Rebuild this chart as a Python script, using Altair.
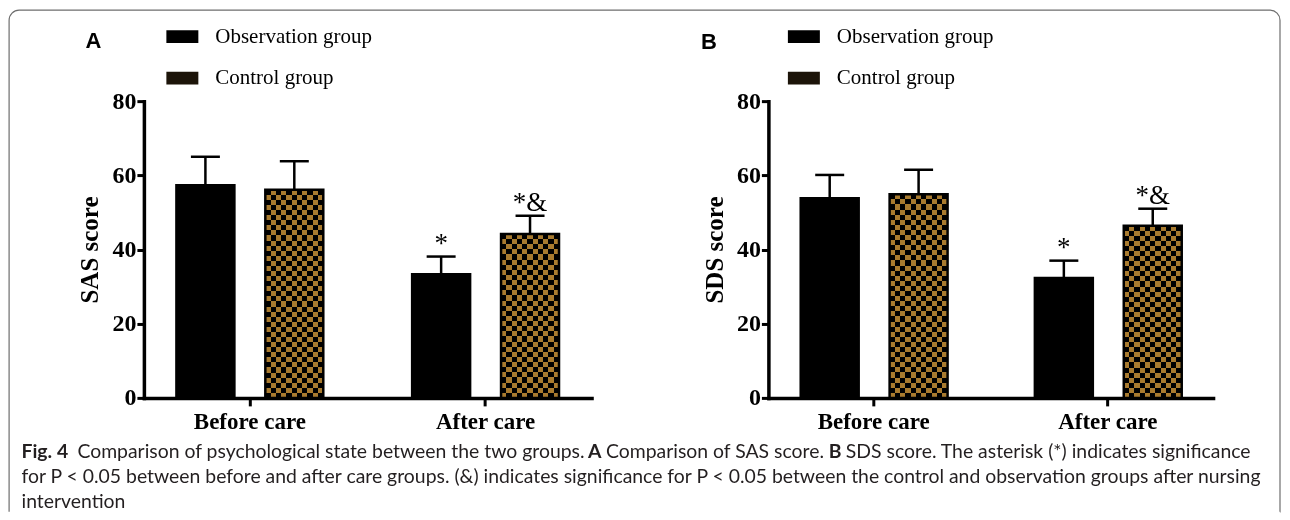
import math
import altair as alt
import pandas as pd

# ---------------- data ----------------
times = ["Before care", "After care"]
groups = ["Observation group", "Control group"]

sas_mean = [57.3, 56.1, 33.3, 44.2]   # obs-before, ctrl-before, obs-after, ctrl-after
sas_sd = [7.7, 7.7, 4.8, 4.9]
sds_mean = [53.8, 54.9, 32.3, 46.4]
sds_sd = [6.3, 6.6, 4.7, 4.6]
sig_marks = ["", "", "*", "*&"]

caption_line1 = ["Fig. 4", "Comparison of psychological state between the two groups.",
                 "A", "Comparison of SAS score.", "B",
                 "SDS score. The asterisk (*) indicates significance"]
caption_bold1 = [True, False, True, False, True, False]
caption_line2 = ("for P < 0.05 between before and after care groups. (&) indicates significance "
                 "for P < 0.05 between the control and observation groups after nursing")
caption_line3 = "intervention"

# ---------------- style / layout ----------------
BROWN = "#a97b2f"
W, H = 448, 297
SERIF = "Liberation Serif"
CAP_FONT = "Lato"
CAP_SIZE = 19.4
cap_x1 = [21, 77, 588, 606, 829, 846]   # page x of caption pieces
CAP_Y = [458, 483, 508]
ORIGIN_X, ORIGIN_Y = 143.5, 100.5


def stripes(n, vertical):
    stops = []
    for i in range(n):
        c = BROWN if i % 2 == 0 else "black"
        stops.append(alt.GradientStop(offset=i / n, color=c))
        stops.append(alt.GradientStop(offset=(i + 1) / n, color=c))
    if vertical:
        return alt.LinearGradient(gradient="linear", stops=stops, x1=0, x2=1, y1=0, y2=0)
    return alt.LinearGradient(gradient="linear", stops=stops, x1=0, x2=0, y1=0, y2=1)


def make_df(means, sds):
    rows = []
    k = 0
    for t in times:
        for g in groups:
            rows.append({"time": t, "group": g, "mean": means[k], "sd": sds[k],
                         "top": means[k] + sds[k], "sig": sig_marks[k]})
            k += 1
    return pd.DataFrame(rows)


def panel(means, sds, ytitle, letter, letter_xy, legend_xy, width, extra=()):
    df = make_df(means, sds)
    xenc = alt.X("time:N", sort=times, title=None,
                 scale=alt.Scale(paddingInner=0.377, paddingOuter=0.138),
                 axis=alt.Axis(labelAngle=0, labelFont=SERIF, labelFontWeight="bold",
                               labelFontSize=23, labelColor="black", labelPadding=5,
                               tickSize=8, tickWidth=3, tickColor="black",
                               domainWidth=3.5, domainColor="black", domainCap="square",
                               grid=False))
    xoff = alt.XOffset("group:N", sort=groups,
                       scale=alt.Scale(paddingInner=0.348, paddingOuter=0))
    base = alt.Chart(df).encode(x=xenc, xOffset=xoff)
    yscale = alt.Scale(domain=[0, 80], nice=False)
    yaxis = alt.Axis(values=[0, 20, 40, 60, 80], labelFont=SERIF,
                     labelFontWeight="bold", labelFontSize=24, labelColor="black",
                     labelPadding=1, tickSize=7, tickWidth=3, tickColor="black",
                     domainWidth=3.5, domainColor="black", domainCap="square",
                     grid=False, titleFont=SERIF, titleFontWeight="bold",
                     titleFontSize=25, titleColor="black", titlePadding=9)

    def Y(field):
        return alt.Y(field, scale=yscale, title=ytitle, axis=yaxis)

    bars = base.mark_bar().encode(
        y=Y("mean:Q"),
        color=alt.Color("group:N", sort=groups,
                        scale=alt.Scale(domain=groups, range=["black", "#1c1409"]),
                        legend=alt.Legend(title=None, orient="none",
                                          legendX=legend_xy[0], legendY=legend_xy[1],
                                          direction="vertical",
                                          symbolType="M-1,-0.4H1V0.4H-1Z",
                                          symbolSize=1024, symbolStrokeWidth=0,
                                          symbolOpacity=1,
                                          labelFont=SERIF, labelFontSize=21,
                                          labelColor="black", labelOffset=17,
                                          rowPadding=15.5, padding=0)))

    layers = [bars]
    px_per_unit = H / 80.0
    for _, r in df.iterrows():
        if r["group"] != "Control group":
            continue
        nrows = max(2, int(round(r["mean"] * px_per_unit / 5.1)))
        sub = base.transform_filter(
            (alt.datum.group == r["group"]) & (alt.datum.time == r["time"]))
        layers.append(sub.mark_bar(fill=stripes(11, True)).encode(y=Y("mean:Q")))
        layers.append(sub.mark_bar(fill=stripes(nrows, False), blend="difference").encode(
            y=Y("mean:Q")))

    border = base.mark_bar(filled=False, stroke="black", strokeWidth=2.5).encode(y=Y("mean:Q"))
    err_rule = base.mark_rule(color="black", strokeWidth=2.5).encode(
        y=Y("mean:Q"), y2="top:Q")
    err_cap = base.mark_tick(color="black", size=29, thickness=2.5, opacity=1).encode(
        y=Y("top:Q"))
    sig = base.mark_text(font=SERIF, fontSize=27, color="black", baseline="alphabetic",
                         dy=-5).encode(y=Y("top:Q"), text="sig:N")
    let = alt.Chart(pd.DataFrame({"t": [letter]})).mark_text(
        font="Liberation Sans", fontWeight="bold", fontSize=22, color="black",
        align="left", baseline="alphabetic").encode(
        text="t:N", x=alt.value(letter_xy[0]), y=alt.value(letter_xy[1]))
    layers += [border, err_rule, err_cap, sig, let]
    layers = list(extra) + layers
    return alt.layer(*layers).properties(width=width, height=H)


# frame (open at the bottom) + caption, placed in page coords converted to panel A coords
FX0, FX1, FY0, FY1, FR = 8.6, 1280.5, 9.5, 511.5, 10
fw, fh = FX1 - FX0, FY1 - FY0
d1 = (fw - 2 * FR) + math.pi * FR / 2 + (fh - FR)
d2 = (fh - FR) + math.pi * FR / 2 + FR + 5
frame = alt.Chart(pd.DataFrame({"k": [0]})).mark_rect(
    fill="transparent", stroke="#6e6e6e", strokeWidth=1.2,
    cornerRadiusTopLeft=FR, cornerRadiusTopRight=FR,
    strokeDash=[d1, fw, d2, 1]).encode(
    x=alt.value(FX0 - ORIGIN_X), x2=alt.value(FX1 - ORIGIN_X),
    y=alt.value(FY0 - ORIGIN_Y), y2=alt.value(FY1 - ORIGIN_Y))

cap_layers = []
for txt, bold, xp in zip(caption_line1, caption_bold1, cap_x1):
    cap_layers.append(alt.Chart(pd.DataFrame({"t": [txt]})).mark_text(
        font=CAP_FONT, fontSize=CAP_SIZE, fontWeight="bold" if bold else "normal",
        color="#231f20", align="left", baseline="alphabetic").encode(
        text="t:N", x=alt.value(xp - ORIGIN_X), y=alt.value(CAP_Y[0] - ORIGIN_Y)))
for txt, yp in [(caption_line2, CAP_Y[1]), (caption_line3, CAP_Y[2])]:
    cap_layers.append(alt.Chart(pd.DataFrame({"t": [txt]})).mark_text(
        font=CAP_FONT, fontSize=CAP_SIZE, color="#231f20", align="left",
        baseline="alphabetic").encode(
        text="t:N", x=alt.value(21 - ORIGIN_X), y=alt.value(yp - ORIGIN_Y)))

panelA = panel(sas_mean, sas_sd, "SAS score", "A", (85 - ORIGIN_X, 47 - ORIGIN_Y),
               (166 - ORIGIN_X, 20 - ORIGIN_Y), W, extra=[frame] + cap_layers)
BX = ORIGIN_X + W + 177
panelB = panel(sds_mean, sds_sd, "SDS score", "B", (701 - BX, 48 - ORIGIN_Y),
               (788 - BX, 20 - ORIGIN_Y), 445)

chart = alt.HConcatChart(hconcat=[panelA, panelB], spacing=177, bounds="flush",
                         padding=0, background="white").resolve_legend(
    color="independent").configure_view(stroke="transparent")

chart.save("out.html", embed_options={"renderer": "svg", "actions": False})
